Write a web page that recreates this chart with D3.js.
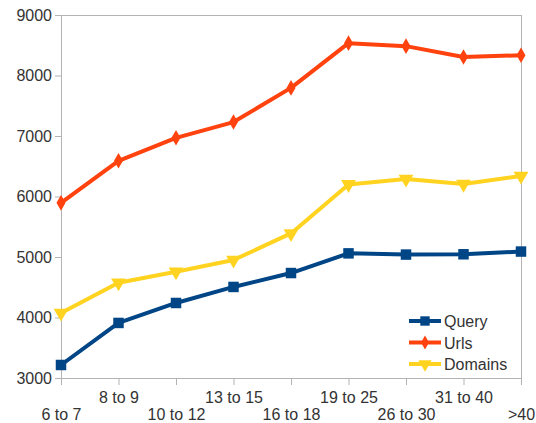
<!DOCTYPE html>
<html><head><meta charset="utf-8">
<script src="https://cdn.jsdelivr.net/npm/d3@7"></script>
<style>body{margin:0;background:#fff}svg{display:block}text{font-family:"Liberation Sans",Arial,sans-serif}</style>
</head><body><svg id="c" width="536" height="423"></svg>
<script>
const categories = ["6 to 7","8 to 9","10 to 12","13 to 15","16 to 18","19 to 25","26 to 30","31 to 40",">40"];
const query   = [3215, 3910, 4240, 4505, 4735, 5060, 5040, 5045, 5090];
const urls    = [5895, 6590, 6970, 7230, 7795, 8535, 8485, 8305, 8335];
const domains = [4075, 4575, 4755, 4950, 5390, 6200, 6290, 6205, 6340];
const yTicks  = [3000,4000,5000,6000,7000,8000,9000];
const seriesNames = ["Query","Urls","Domains"];
const colors = ["#004586","#ff420e","#ffd320"];

const svg = d3.select("#c");
const L=61,R=521,T=15,B=378;
const x = d3.scalePoint().domain(categories).range([L,R]);
const y = d3.scaleLinear().domain([3000,9000]).range([B,T]);
const frame="#b3b3b3", txt="#333333", fs="16px";

svg.append("rect").attr("x",L).attr("y",T).attr("width",R-L).attr("height",B-T)
  .attr("fill","none").attr("stroke",frame).attr("stroke-width",1).attr("shape-rendering","crispEdges");

const ya = svg.append("g").attr("transform",`translate(${L},0)`)
  .call(d3.axisLeft(y).tickValues(yTicks).tickSize(6).tickPadding(3).tickFormat(d3.format("d")));
ya.select(".domain").remove();
ya.selectAll("line").attr("stroke",frame);
ya.selectAll("text").attr("fill",txt).style("font-size",fs).style("font-family","Liberation Sans, Arial, sans-serif");

const xa = svg.append("g").attr("transform",`translate(0,${B})`)
  .call(d3.axisBottom(x).tickSize(7).tickPadding(0));
xa.select(".domain").remove();
xa.selectAll("line").attr("stroke",frame);
xa.selectAll("text").attr("fill",txt).style("font-size",fs).style("font-family","Liberation Sans, Arial, sans-serif")
  .attr("dy",null).attr("y",(d,i)=> i%2===1 ? 25 : 42);

const data=[query,urls,domains];
const line=d3.line().x((d,i)=>x(categories[i])).y(d=>y(d));
const symbols=[d3.symbolSquare,d3.symbolDiamond,d3.symbolTriangle];
const sizes=[110,70,95];

data.forEach((vals,s)=>{
  const g=svg.append("g");
  g.append("path").datum(vals).attr("d",line).attr("fill","none")
   .attr("stroke",colors[s]).attr("stroke-width",4).attr("stroke-linejoin","round");
  g.selectAll("path.m").data(vals).join("path").attr("class","m")
   .attr("d",d3.symbol().type(symbols[s]).size(sizes[s]))
   .attr("transform",(d,i)=>`translate(${x(categories[i])},${y(d)})${s===2?" rotate(180)":""}`)
   .attr("fill",colors[s]);
});

const lg=svg.append("g");
seriesNames.forEach((n,s)=>{
  const yy=321+s*21.5;
  lg.append("line").attr("x1",409).attr("x2",441).attr("y1",yy).attr("y2",yy)
    .attr("stroke",colors[s]).attr("stroke-width",4);
  lg.append("path").attr("d",d3.symbol().type(symbols[s]).size(sizes[s]*0.8))
    .attr("transform",`translate(425,${yy})${s===2?" rotate(180)":""}`).attr("fill",colors[s]);
  lg.append("text").attr("x",444).attr("y",yy+6).text(n).attr("fill",txt).style("font-size",fs);
});
</script></body></html>
